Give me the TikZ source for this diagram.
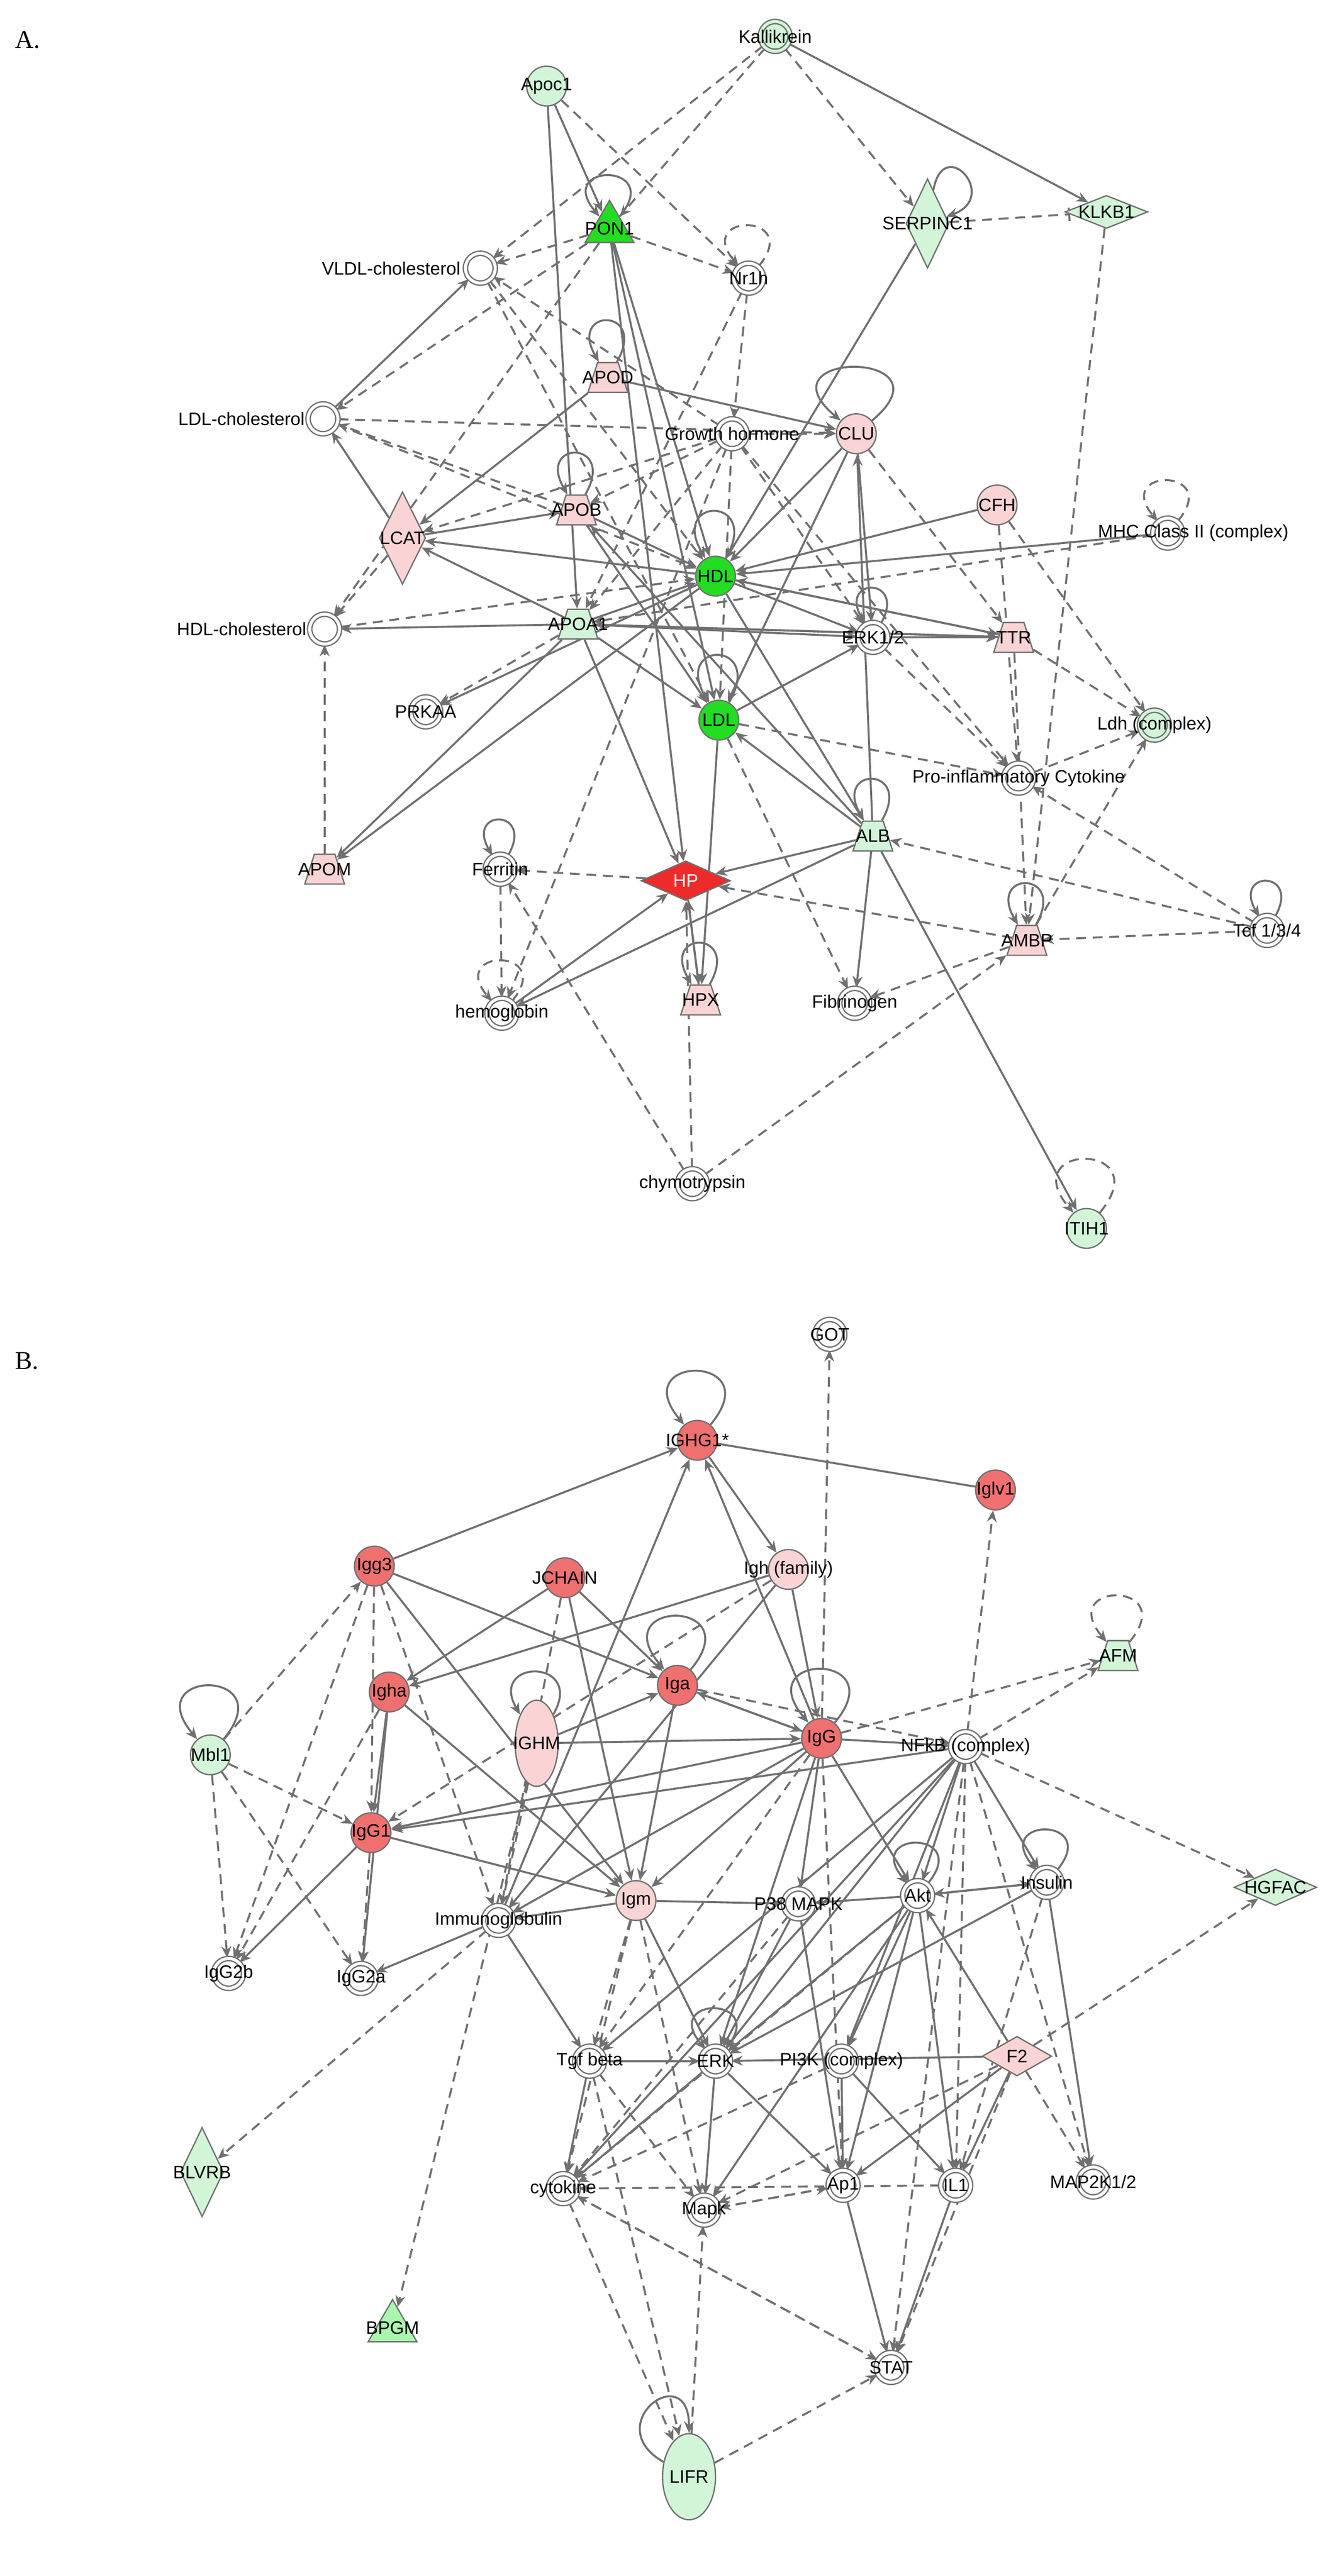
\documentclass[tikz,border=0pt]{standalone}
\usepackage{fontspec}
\setmainfont{Liberation Sans}
\newfontfamily\serf{Liberation Serif}
\usetikzlibrary{shapes.geometric,arrows.meta}
\pgfdeclarelayer{bgl}
\pgfsetlayers{bgl,main}
\definecolor{lg}{HTML}{D2F5D8}
\definecolor{bg}{HTML}{22DD22}
\definecolor{pk}{HTML}{FAD4D4}
\definecolor{rd}{HTML}{EE2A2A}
\definecolor{rn}{HTML}{F07070}
\definecolor{ln}{HTML}{707070}
\newcommand\nd[4]{\node[#2] (#1) at (#3) {}; \node[lbl] (#1-t) at (#3) {#4};}
\begin{document}
\begin{tikzpicture}[x=1mm,y=-1mm,
 lbl/.style={font=\fontsize{31}{35}\selectfont, inner sep=0},
 base/.style={draw=ln, line width=1.2mm, inner sep=0},
 dc/.style={base, circle, double=white, double distance=1.8mm, fill=white, minimum size=18mm, line width=0.8mm},
 dg/.style={dc, fill=lg, double=lg},
 cc/.style={base, circle, minimum size=24mm, line width=0.8mm},
 tz/.style={base, trapezium, trapezium left angle=65, trapezium right angle=65, trapezium stretches=true, minimum width=24mm, minimum height=18mm, line width=0.8mm, inner sep=1mm},
 dm/.style={base, diamond, line width=0.8mm},
 tr/.style={base, regular polygon, regular polygon sides=3, minimum size=34mm, line width=0.8mm},
 s/.style={draw=ln, line width=1.2mm, -{Stealth[length=7mm,width=6mm]}},
 d/.style={s, dash pattern=on 6mm off 4mm},
 l/.style={draw=ln, line width=1.2mm},
 lp/.style={s, looseness=9},
]
\useasboundingbox (0,0) rectangle (806,1556);
\node[font=\serf\fontsize{44}{48}\selectfont, anchor=west] (A) at (8,24) {A.};
\node[font=\serf\fontsize{44}{48}\selectfont, anchor=west] (B) at (8,822) {B.};
% ---------- Panel A nodes
\nd{kal}{dg}{468,22}{Kallikrein}
\nd{apoc}{cc,fill=lg}{330,52}{Apoc1}
\nd{pon}{tr,fill=bg}{368,138}{PON1}
\nd{serp}{dm,fill=lg,minimum width=26mm,minimum height=54mm}{560,135}{SERPINC1}
\nd{klkb}{dm,fill=lg,minimum width=50mm,minimum height=20mm}{668,128}{KLKB1}
\nd{vldl}{dc}{290,162}{}
\node[lbl,anchor=east] (vldl-l) at (278,162) {VLDL-cholesterol};
\nd{nr}{dc}{452,168}{Nr1h}
\nd{apod}{tz,fill=pk}{367,228}{APOD}
\nd{gh}{dc}{442,262}{Growth hormone}
\nd{clu}{cc,fill=pk}{517,262}{CLU}
\nd{ldlc}{dc}{195,253}{}
\node[lbl,anchor=east] (ldlc-l) at (184,253) {LDL-cholesterol};
\nd{cfh}{cc,fill=pk}{602,305}{CFH}
\nd{apob}{tz,fill=pk}{348,308}{APOB}
\nd{lcat}{dm,fill=pk,minimum width=28mm,minimum height=56mm}{243,325}{LCAT}
\nd{mhc}{dc}{705,322}{}
\node[lbl,anchor=east] (mhc-l) at (778,322) {MHC Class II (complex)};
\nd{hdl}{cc,fill=bg}{432,348}{HDL}
\nd{hdlc}{dc}{196,380}{}
\node[lbl,anchor=east] (hdlc-l) at (185,380) {HDL-cholesterol};
\nd{apoa}{tz,fill=lg}{349,377}{APOA1}
\nd{erk}{dc}{527,385}{ERK1/2}
\nd{ttr}{tz,fill=pk}{612,385}{TTR}
\nd{prk}{dc}{257,430}{PRKAA}
\nd{ldl}{cc,fill=bg}{434,435}{LDL}
\nd{ldh}{dg}{697,438}{Ldh (complex)}
\nd{pro}{dc}{615,470}{Pro-inflammatory Cytokine}
\nd{alb}{tz,fill=lg}{527,505}{ALB}
\nd{apom}{tz,fill=pk}{196,525}{APOM}
\nd{fer}{dc}{302,525}{Ferritin}
\nd{hp}{dm,fill=rd,minimum width=54mm,minimum height=24mm}{414,532}{\textcolor{white}{HP}}
\nd{ambp}{tz,fill=pk}{620,568}{AMBP}
\nd{tcf}{dc}{765,562}{Tcf 1/3/4}
\nd{hem}{dc}{303,612}{hemoglobin}
\nd{hpx}{tz,fill=pk}{423,604}{HPX}
\nd{fib}{dc}{516,606}{Fibrinogen}
\nd{chy}{dc}{418,715}{chymotrypsin}
\nd{iti}{cc,fill=lg}{656,742}{ITIH1}
\begin{pgfonlayer}{bgl}
\foreach \a/\b in {kal/klkb,apoc/pon,apoc/apoa,pon/hdl,pon/ldl,apod/lcat,apod/clu,ldlc/vldl,lcat/ldlc,lcat/apob,apob/hdl,apoa/lcat,apoa/hdlc,apoa/hdl,apoa/erk,apoa/ttr,apoa/apom,apoa/ldl,apoa/hp,hdl/erk,hdl/lcat,hdl/apom,hdl/alb,clu/hdl,clu/ldl,clu/erk,cfh/hdl,mhc/hdl,ttr/apoa,ttr/hdl,alb/hp,alb/ldl,alb/hem,alb/fib,alb/iti,alb/apob,alb/clu,hpx/hp,hem/hp,ldl/erk,hdl/ttr,hp/hpx,pon/hp,serp/hdl,apob/ldl,ldl/hpx,erk/ttr,hdl/prk}
  \draw[s] (\a) -- (\b);
\foreach \a/\b in {kal/serp,kal/pon,kal/vldl,pon/vldl,pon/ldlc,pon/hdlc,pon/nr,lcat/hdlc,apob/ldlc,apoa/prk,cfh/ldh,mhc/apoa,erk/pro,gh/apob,gh/apoa,gh/ldl,gh/lcat,gh/vldl,gh/clu,gh/erk,nr/gh,nr/apoa,hp/fer,ambp/hp,ambp/fib,tcf/alb,tcf/ambp,tcf/pro,chy/hp,chy/ambp,chy/fer,fer/hem,apom/hdlc,klkb/ambp,ldl/pro,pro/ldh,ambp/ldh,cfh/pro,ttr/ldh,ttr/ambp,vldl/ldl,vldl/hdl,ldlc/clu,ldlc/hdl,hdlc/hdl,apoc/nr,gh/hem,gh/pro,clu/ttr,ldl/fib}
  \draw[d] (\a) -- (\b);
\draw[d,-{Bar[width=8mm]}] (serp) -- (klkb);
\draw[lp] (pon) to[out=50,in=130] (pon);
\draw[lp,dash pattern=on 6mm off 4mm] (nr) to[out=50,in=130] (nr);
\draw[lp] (apod) to[out=60,in=120] (apod);
\draw[s,looseness=5] (serp) to[out=80,in=20] (serp);
\draw[lp] (clu) to[out=40,in=140] (clu);
\draw[lp] (apob) to[out=60,in=120] (apob);
\draw[lp] (hdl) to[out=60,in=120] (hdl);
\draw[lp] (erk) to[out=60,in=120] (erk);
\draw[lp] (ldl) to[out=60,in=120] (ldl);
\draw[lp] (fer) to[out=60,in=120] (fer);
\draw[lp] (hpx) to[out=60,in=120] (hpx);
\draw[lp] (alb) to[out=60,in=120] (alb);
\draw[lp,dash pattern=on 6mm off 4mm] (iti) to[out=50,in=130] (iti);
\draw[lp,dash pattern=on 6mm off 4mm] (mhc) to[out=50,in=130] (mhc);
\draw[lp,dash pattern=on 6mm off 4mm] (hem) to[out=50,in=130] (hem);
\draw[lp] (ambp) to[out=60,in=120] (ambp);
\draw[lp] (tcf) to[out=60,in=120] (tcf);
\end{pgfonlayer}
% ---------- Panel B nodes
\nd{got}{dc}{501,806}{GOT}
\nd{ighg}{cc,fill=rn}{421,870}{IGHG1*}
\nd{iglv}{cc,fill=rn}{601,900}{Iglv1}
\nd{igh}{cc,fill=pk}{476,948}{Igh (family)}
\nd{igg3}{cc,fill=rn}{226,946}{Igg3}
\nd{jch}{cc,fill=rn}{341,953}{JCHAIN}
\nd{afm}{tz,fill=lg}{675,1000}{AFM}
\nd{igha}{cc,fill=rn}{235,1022}{Igha}
\nd{iga}{cc,fill=rn}{409,1018}{Iga}
\nd{ighm}{base,ellipse,fill=pk,minimum width=26mm,minimum height=52mm,line width=0.8mm}{324,1053}{IGHM}
\nd{igg}{cc,fill=rn}{496,1050}{IgG}
\nd{nfkb}{dc}{583,1055}{NFkB (complex)}
\nd{mbl}{cc,fill=lg}{127,1060}{Mbl1}
\nd{igg1}{cc,fill=rn}{224,1107}{IgG1}
\nd{ins}{dc}{632,1137}{Insulin}
\nd{akt}{dc}{554,1145}{Akt}
\nd{p38}{dc}{482,1150}{P38 MAPK}
\nd{igm}{cc,fill=pk}{384,1148}{Igm}
\nd{imm}{dc}{301,1160}{Immunoglobulin}
\nd{hgf}{dm,fill=lg,minimum width=50mm,minimum height=22mm}{770,1140}{HGFAC}
\nd{g2b}{dc}{138,1192}{IgG2b}
\nd{g2a}{dc}{218,1195}{IgG2a}
\nd{tgf}{dc}{356,1245}{Tgf beta}
\nd{erkb}{dc}{432,1245}{ERK}
\nd{pi3}{dc}{508,1245}{PI3K (complex)}
\nd{f2}{dm,fill=pk,minimum width=42mm,minimum height=24mm}{614,1242}{F2}
\nd{map}{dc}{660,1318}{MAP2K1/2}
\nd{blv}{dm,fill=lg,minimum width=26mm,minimum height=54mm}{122,1312}{BLVRB}
\nd{cyt}{dc}{340,1322}{cytokine}
\nd{mapk}{dc}{425,1335}{Mapk}
\nd{ap1}{dc}{509,1320}{Ap1}
\nd{il1}{dc}{577,1320}{IL1}
\nd{bpg}{tr,fill=lg!80!green}{237,1406}{BPGM}
\nd{stat}{dc}{538,1430}{STAT}
\nd{lifr}{base,ellipse,fill=lg,minimum width=32mm,minimum height=52mm,line width=0.8mm}{416,1496}{LIFR}
\begin{pgfonlayer}{bgl}
\draw[l] (ighg) -- (iglv);
\foreach \a/\b in {igg3/ighg,imm/ighg,igg/ighg,igh/igg,igh/igha,igg3/iga,igha/igg1,igha/g2a,jch/igha,jch/iga,jch/igm,ighm/iga,ighm/igg,igg/igg1,igg/imm,igg/nfkb,igg/akt,igg/erkb,igg/p38,nfkb/akt,nfkb/ins,nfkb/erkb,nfkb/pi3,nfkb/cyt,imm/g2a,imm/tgf,akt/ins,akt/erkb,akt/p38,akt/pi3,f2/erkb,f2/il1,f2/akt,f2/ap1,ins/akt,ins/map,ins/erkb,p38/erkb,p38/ap1,tgf/cyt,tgf/erkb,erkb/ap1,erkb/mapk,erkb/cyt,pi3/ap1,pi3/il1,il1/stat,ap1/stat,igm/p38,igm/imm,igm/erkb,iga/igg,igha/igm,igg1/igm,igg/igm,igg3/igm,nfkb/tgf,ighg/igh,igh/imm,iga/igm,igg1/g2b,akt/ap1,akt/il1,akt/mapk,nfkb/igg1,igg/iga}
  \draw[s] (\a) -- (\b);
\foreach \a/\b in {nfkb/iglv,igg/got,igg3/igg1,igg3/g2b,mbl/igg3,mbl/igg1,mbl/g2a,mbl/g2b,ighm/bpg,igg/afm,nfkb/afm,nfkb/hgf,imm/blv,f2/hgf,f2/map,f2/stat,tgf/mapk,cyt/stat,lifr/stat,lifr/mapk,tgf/lifr,cyt/lifr,il1/cyt,mapk/ap1,iga/nfkb,igha/g2b,igg1/g2a,ighm/imm,igm/cyt,igm/tgf,akt/cyt,pi3/cyt,ins/il1,nfkb/il1,nfkb/map,igg/ap1,igh/igg1,igg3/imm,jch/imm,f2/mapk,stat/cyt,ap1/mapk,nfkb/stat,igg/tgf,p38/cyt,igm/mapk}
  \draw[d] (\a) -- (\b);
\draw[lp] (ighg) to[out=50,in=130] (ighg);
\draw[lp] (mbl) to[out=50,in=130] (mbl);
\draw[s,looseness=5] (ighm) to[out=60,in=120] (ighm);
\draw[lp] (iga) to[out=50,in=130] (iga);
\draw[lp] (igg) to[out=50,in=130] (igg);
\draw[lp,dash pattern=on 6mm off 4mm] (afm) to[out=50,in=130] (afm);
\draw[lp] (akt) to[out=50,in=130] (akt);
\draw[lp] (ins) to[out=50,in=130] (ins);
\draw[lp] (erkb) to[out=50,in=130] (erkb);
\draw[s,looseness=5] (lifr) to[out=150,in=90] (lifr);
\end{pgfonlayer}
\end{tikzpicture}
\end{document}
